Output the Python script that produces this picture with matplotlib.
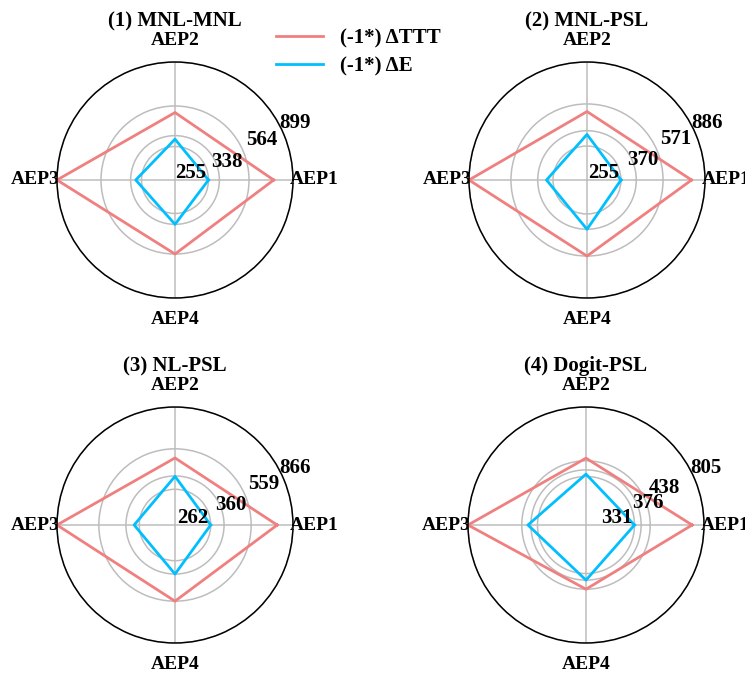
import numpy as np
import matplotlib
matplotlib.use("Agg")
import matplotlib.pyplot as plt
import matplotlib.transforms as mtransforms

plt.rcParams['font.family'] = ['Liberation Serif', 'DejaVu Serif']
plt.rcParams['font.weight'] = 'bold'
plt.rcParams['font.size'] = 14

# axes of the radar chart
categories = ['AEP1', 'AEP2', 'AEP3', 'AEP4']
titles = ['(1) MNL-MNL', '(2) MNL-PSL', '(3) NL-PSL', '(4) Dogit-PSL']

# (-1*) delta TTT per panel
ttt_1 = [752, 514, 899, 564]
ttt_2 = [785, 514, 886, 571]
ttt_3 = [750, 492, 866, 559]
ttt_4 = [724, 456, 805, 438]

# (-1*) delta E per panel
e_1 = [255, 311, 299, 338]
e_2 = [255, 342, 304, 370]
e_3 = [262, 357, 300, 360]
e_4 = [331, 347, 396, 376]

# radial gridline values per panel
rticks_1 = [255, 338, 564, 899]
rticks_2 = [255, 370, 571, 886]
rticks_3 = [262, 360, 559, 866]
rticks_4 = [331, 376, 438, 805]

ttt_all = [ttt_1, ttt_2, ttt_3, ttt_4]
e_all = [e_1, e_2, e_3, e_4]
rticks_all = [rticks_1, rticks_2, rticks_3, rticks_4]

red = '#F08080'
blue = '#00BFFF'

fig = plt.figure(figsize=(7.45, 6.73), dpi=100)

# axes boxes (left, bottom, width, height) in figure fraction
w = 236 / 745
h = 236 / 673
boxes = [
    [57 / 745, 375 / 673, w, h],
    [469 / 745, 375 / 673, w, h],
    [57 / 745, 30 / 673, w, h],
    [468 / 745, 30 / 673, w, h],
]

angles = np.deg2rad([0, 90, 180, 270])
closed = np.append(angles, angles[0])

# how each radial label sits (angle in deg, ha, va, dx px, dy px)
label_style = [
    (0, 'right', 'bottom', -2, -3),
    (22.5, 'left', 'center', -5, 1),
    (22.5, 'left', 'bottom', 3, 2),
    (22.5, 'left', 'bottom', -5, 2),
]

handles = None
for i in range(4):
    ax = fig.add_axes(boxes[i], projection='polar')
    ttt = ttt_all[i]
    e = e_all[i]
    ticks = rticks_all[i]

    l1, = ax.plot(closed, ttt + [ttt[0]], color=red, lw=2, label='(-1*) ΔTTT')
    l2, = ax.plot(closed, e + [e[0]], color=blue, lw=2, label='(-1*) ΔE')
    if handles is None:
        handles = [l1, l2]

    ax.set_ylim(0, ticks[-1])
    ax.set_rgrids(ticks)
    ax.set_yticklabels([])
    ax.set_thetagrids([0, 90, 180, 270], categories, fontsize=14, fontweight='bold')
    ax.tick_params(axis='x', pad=5)
    ax.grid(color='#bdbdbd', linewidth=1.1)
    ax.spines['polar'].set_color('black')
    ax.spines['polar'].set_linewidth(1.1)
    ax.set_title(titles[i], fontsize=15, fontweight='bold', pad=4)

    for k, t in enumerate(ticks):
        ang, ha, va, dx, dy = label_style[k]
        tr = ax.transData + mtransforms.ScaledTranslation(dx / 100, dy / 100, fig.dpi_scale_trans)
        ax.text(np.deg2rad(ang), t, str(t), transform=tr, ha=ha, va=va,
                fontsize=15, fontweight='bold')

fig.legend(handles=handles, loc='upper center', bbox_to_anchor=(0.481, 0.986),
           frameon=False, fontsize=15, handlelength=2.25, labelspacing=0.4)

fig.savefig('out.png', dpi=100)
